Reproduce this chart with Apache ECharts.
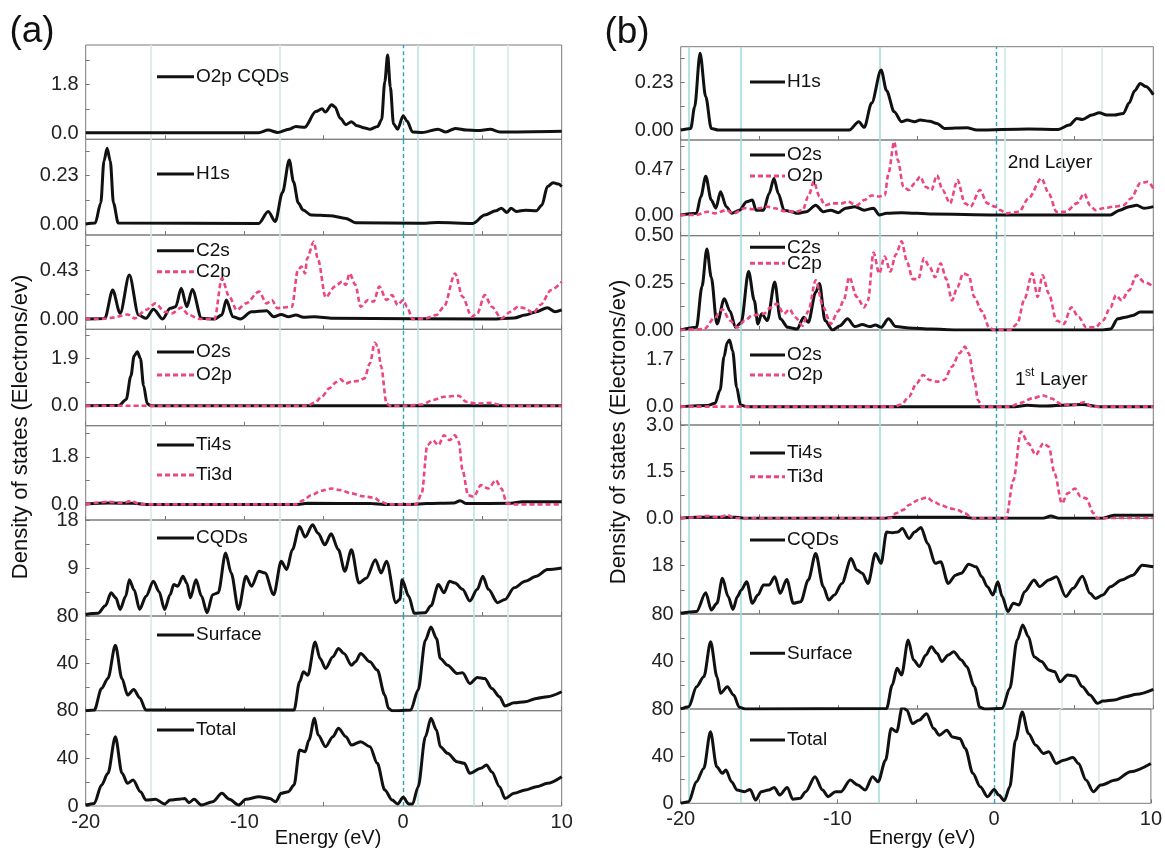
<!DOCTYPE html>
<html><head><meta charset="utf-8">
<script src="https://cdn.jsdelivr.net/npm/echarts@6/dist/echarts.min.js"></script>
<style>html,body{margin:0;padding:0;background:#fff}#c{width:1165px;height:852px}</style>
</head><body><div id="c"></div><script>
// ---------- Panel (a) data ----------
const a_O2pCQDs = [[-20,0.02],[-9.1,0.02],[-8.5,0.12],[-7.9,0.03],[-7.2,0.15],[-6.75,0.25],[-6.2,0.22],[-5.5,0.8],[-5.1,0.9],[-4.9,0.78],[-4.5,1.05],[-4.3,0.98],[-3.95,0.55],[-3.6,0.32],[-3.25,0.43],[-2.9,0.28],[-2.4,0.2],[-2.1,0.15],[-1.6,0.25],[-1.35,0.5],[-1.15,1.9],[-0.97,2.88],[-0.8,1.7],[-0.6,0.35],[-0.34,0.15],[0.01,0.65],[0.25,0.45],[0.6,0.05],[1.2,0.03],[2.2,0.15],[2.7,0.05],[3.3,0.18],[4.0,0.12],[4.7,0.1],[5.5,0.15],[6.1,0.05],[10,0.08]];
const a_H1s = [[-20,0],[-19.4,0.005],[-19.05,0.1],[-18.85,0.3],[-18.65,0.36],[-18.45,0.3],[-18.25,0.1],[-17.95,0.005],[-9.1,0.003],[-8.5,0.06],[-8.05,0.012],[-7.6,0.15],[-7.17,0.305],[-6.9,0.2],[-6.6,0.1],[-6.3,0.067],[-5.8,0.043],[-4.6,0.04],[-3.6,0.027],[-3.0,0.006],[1.0,0.004],[2.2,0.007],[4.4,0.003],[5.15,0.043],[5.85,0.063],[6.2,0.075],[6.55,0.055],[6.8,0.075],[7.15,0.06],[7.7,0.066],[8.4,0.063],[8.75,0.09],[9.1,0.178],[9.46,0.197],[9.8,0.19],[10,0.178]];
const a_C2s = [[-20,0],[-18.8,0.005],[-18.3,0.254],[-17.83,0.05],[-17.25,0.386],[-16.67,0.035],[-16.2,0.006],[-15.73,0.085],[-15.15,0],[-14.68,0.094],[-14.33,0.108],[-13.98,0.27],[-13.63,0.108],[-13.28,0.26],[-12.7,0.006],[-11.88,0],[-11.42,0.035],[-11.14,0.167],[-10.72,0.02],[-10.25,0],[-9.55,0.064],[-8.6,0.073],[-8.15,0.02],[-7.68,0.04],[-7.22,0.02],[-6.75,0.035],[-6.28,0.015],[-5.6,0.02],[-4.42,0.006],[5.6,0],[7.0,0.01],[7.7,0.035],[8.4,0.064],[9.1,0.1],[9.58,0.064],[10,0.08]];
const a_C2p = [[-20,0],[-18.8,0.003],[-18.3,0.012],[-17.36,0.04],[-16.9,0.006],[-16.2,0.08],[-15.6,0.137],[-15.03,0.064],[-14.55,0.05],[-13.98,0.1],[-13.5,0.035],[-12.8,0],[-11.88,0],[-11.42,0.357],[-10.95,0.196],[-10.48,0.079],[-9.9,0.137],[-9.08,0.24],[-8.6,0.137],[-8.27,0.167],[-7.92,0.094],[-7.68,0.1],[-7.0,0.108],[-6.63,0.43],[-6.4,0.46],[-6.17,0.4],[-6.05,0.53],[-5.63,0.678],[-5.35,0.518],[-4.88,0.19],[-4.3,0.284],[-3.83,0.33],[-3.6,0.3],[-3.37,0.4],[-3.0,0.3],[-2.67,0.108],[-2.2,0.167],[-1.85,0.152],[-1.5,0.284],[-1.04,0.167],[-0.69,0.21],[-0.34,0.123],[0.01,0.167],[0.25,0.108],[0.6,0],[1.4,0.006],[2.1,0.035],[2.58,0.108],[3.28,0.4],[3.75,0.196],[4.33,0.02],[4.68,0.05],[5.15,0.21],[5.6,0.108],[6.2,0.006],[6.78,0.064],[7.25,0.108],[7.7,0.094],[8.2,0.05],[8.65,0.123],[9.34,0.254],[10,0.327]];
const a_O2s = [[-20,0],[-17.9,0.01],[-17.45,0.25],[-17.15,1.2],[-16.95,2.0],[-16.75,2.17],[-16.55,1.9],[-16.35,0.8],[-16.12,0.08],[-15.9,0],[10,0]];
const a_O2p = [[-20,0],[-6.05,0],[-5.58,0.12],[-5.12,0.36],[-4.65,0.7],[-4.18,0.96],[-3.95,1.06],[-3.6,0.9],[-3.25,0.97],[-2.78,1.0],[-2.43,1.1],[-2.09,1.7],[-1.78,2.53],[-1.6,2.4],[-1.38,1.57],[-1.04,0.09],[-0.8,0],[0.25,0],[1.18,0.05],[1.88,0.23],[2.58,0.36],[3.5,0.4],[3.98,0.16],[4.68,0.09],[5.6,0.12],[5.96,0.05],[6.55,0],[10,0]];
const a_Ti4s = [[-20,0.02],[-18.5,0.05],[-17,0.04],[-16,0],[-6.8,0],[-6,0.04],[-2,0.03],[-1.2,0],[0.5,0],[1.5,0.03],[3.2,0.05],[3.6,0.14],[4,0.03],[6.8,0.04],[7.5,0.1],[10,0.1]];
const a_Ti3d = [[-20,0],[-19.35,0.06],[-18.65,0.1],[-17.7,0.06],[-17.13,0.126],[-16.55,0],[-6.75,0],[-6.28,0.16],[-5.8,0.35],[-5.12,0.52],[-4.53,0.6],[-3.95,0.54],[-3.25,0.42],[-2.55,0.31],[-1.85,0.26],[-1.38,0.1],[-0.92,0],[0.83,0],[1.18,0.42],[1.53,2.24],[1.88,2.43],[2.23,2.24],[2.58,2.62],[2.93,2.43],[3.28,2.62],[3.51,2.37],[3.75,1.3],[4.1,0.35],[4.45,0.29],[4.91,0.73],[5.38,0.6],[5.85,0.92],[6.2,0.6],[6.55,0.04],[7.0,0],[10,0]];
const a_CQDs = [[-20,0.3],[-19.23,0.5],[-18.76,1.9],[-18.4,4.35],[-18.1,3.4],[-17.83,1.24],[-17.48,3.7],[-17.25,6.8],[-16.95,4.9],[-16.6,1.24],[-16.2,3.7],[-15.73,6.5],[-15.38,4.6],[-15.03,1.24],[-14.68,4.0],[-14.45,5.9],[-14.2,5.6],[-13.87,7.45],[-13.63,6.2],[-13.4,3.4],[-13.05,6.8],[-12.7,3.7],[-12.35,0.6],[-12.0,4.0],[-11.65,4.35],[-11.18,11.8],[-10.83,8.07],[-10.37,1.24],[-9.9,7.45],[-9.55,5.6],[-9.08,8.4],[-8.7,8.07],[-8.15,4.0],[-7.68,10.25],[-7.33,8.7],[-6.98,12.4],[-6.52,16.8],[-6.17,14.8],[-5.7,17.1],[-5.35,15.5],[-4.93,13.35],[-4.53,15.4],[-4.07,12.4],[-3.67,8.4],[-3.25,12.4],[-2.78,6.2],[-2.32,7.1],[-1.74,10.56],[-1.38,8.07],[-1.04,10.25],[-0.45,2.5],[-0.2,3.1],[-0.06,6.8],[0.36,3.7],[0.71,0.5],[1.4,0.6],[1.76,1.9],[2.23,5.9],[2.58,4.35],[2.93,6.5],[3.28,6.2],[3.75,5.0],[4.21,2.8],[4.68,5.0],[5.03,7.45],[5.38,5.0],[5.96,2.5],[6.43,3.1],[7.0,5.3],[7.7,6.5],[8.4,7.45],[9.1,8.7],[10,9.0]];
const a_Surface = [[-20,0],[-19.46,0.5],[-19.0,18.8],[-18.6,27.2],[-18.13,55.3],[-17.71,27],[-17.36,13.2],[-16.97,18],[-16.6,11],[-16.2,0.5],[-6.87,0.5],[-6.52,24.4],[-6.28,32.9],[-6.0,30],[-5.54,58.1],[-5.23,44.1],[-4.88,35.7],[-4.42,45.5],[-4.07,52.5],[-3.72,48.3],[-3.25,38.5],[-3.0,41.3],[-2.67,48.3],[-2.09,41.3],[-1.62,34.3],[-1.15,13.2],[-0.92,2],[-0.69,0],[0.48,0.5],[0.95,17.4],[1.41,59.6],[1.76,70.8],[2.11,61],[2.35,44.1],[2.81,38.5],[3.4,31.5],[3.75,32],[4.21,23],[4.68,28.1],[5.15,27.2],[5.6,18.8],[6.08,11.8],[6.43,3.9],[7.0,6.7],[7.7,7.6],[8.4,10.4],[9.1,11.8],[10,16]];
const a_Total = [[-20,0.8],[-19.46,2.2],[-19.0,17.6],[-18.6,27.4],[-18.13,58.2],[-17.71,27.4],[-17.36,19],[-17.01,21.8],[-16.55,12],[-16.2,5],[-15.6,5.6],[-15.03,1.7],[-14.68,5],[-14.2,5.6],[-13.75,6.4],[-13.5,2.8],[-13.17,5.6],[-12.7,0.8],[-12.0,3.6],[-11.42,10.6],[-10.95,5.6],[-10.37,0.8],[-9.9,5.6],[-9.08,7.8],[-8.4,6.4],[-8.03,3.6],[-7.68,10.6],[-7.22,12],[-6.87,17.6],[-6.52,47],[-6.17,45.6],[-5.93,55.4],[-5.58,73.6],[-5.35,59.6],[-4.88,49.8],[-4.42,58.2],[-4.07,65.2],[-3.6,58.2],[-3.25,51.2],[-2.67,54],[-2.09,49.8],[-1.62,35.8],[-1.15,13.4],[-0.69,5],[-0.34,1.7],[0.01,7.3],[0.36,1.7],[0.6,1.7],[0.95,16],[1.41,58.2],[1.76,73.6],[2.11,63.8],[2.35,49.8],[2.81,44.2],[3.4,37.2],[3.86,35.8],[4.21,27.4],[4.91,31.6],[5.26,34.4],[5.6,28.6],[6.08,16.2],[6.43,6.4],[7.0,10.6],[7.7,13.4],[8.4,16.2],[9.1,19],[10,24.6]];

// ---------- Panel (b) data ----------
const b_H1s = [[-20,0],[-19.36,0.008],[-19.12,0.11],[-18.77,0.37],[-18.41,0.16],[-18.06,0.008],[-17.6,0],[-9.3,0],[-8.7,0.04],[-8.35,0.013],[-7.88,0.13],[-7.28,0.29],[-6.93,0.19],[-6.45,0.088],[-5.98,0.04],[-5.63,0.048],[-5.15,0.04],[-4.8,0.048],[-4.2,0.043],[-3.73,0.032],[-3.26,0.008],[-1.84,0.011],[-1.2,0],[2.07,0.005],[3.96,0.003],[4.67,0.024],[5.15,0.056],[5.5,0.051],[6.1,0.072],[6.57,0.084],[7.04,0.072],[7.52,0.072],[8.1,0.08],[8.46,0.13],[8.82,0.19],[9.17,0.225],[9.53,0.21],[10,0.17]];
const b_O2s2 = [[-20,0],[-19.0,0.017],[-18.72,0.19],[-18.41,0.4],[-18.06,0.155],[-17.77,0.07],[-17.47,0.24],[-17.11,0.086],[-16.76,0.017],[-16.28,0.05],[-15.81,0.137],[-15.45,0.155],[-15.22,0.05],[-14.74,0.05],[-14.39,0.22],[-14.08,0.377],[-13.8,0.22],[-13.44,0.05],[-12.97,0.034],[-12.6,0.017],[-12.02,0.034],[-11.43,0.1],[-10.95,0.034],[-10.48,0.05],[-10.0,0.024],[-9.53,0.07],[-8.94,0.086],[-8.35,0.05],[-7.76,0.07],[-7.4,0],[-6.93,0.017],[-5.98,0.024],[-4,0.01],[0,0],[7.28,0],[7.87,0.05],[8.46,0.086],[8.94,0.1],[9.41,0.07],[10,0.086]];
const b_O2p2 = [[-20,0],[-19,0],[-18.3,0.034],[-17.82,0.017],[-17.11,0.05],[-16.64,0.017],[-15.93,0.07],[-15.45,0.06],[-14.98,0.07],[-14.5,0.086],[-14.03,0.07],[-13.44,0.04],[-12.73,0.034],[-12.26,0.05],[-11.9,0.19],[-11.55,0.343],[-11.19,0.19],[-10.84,0.1],[-10.36,0.12],[-9.77,0.12],[-9.41,0.137],[-8.82,0.1],[-8.35,0.154],[-7.88,0.2],[-7.4,0.19],[-7.05,0.2],[-6.81,0.43],[-6.45,0.755],[-6.22,0.566],[-5.86,0.29],[-5.51,0.257],[-5.15,0.326],[-4.8,0.395],[-4.44,0.29],[-4.09,0.257],[-3.73,0.41],[-3.38,0.257],[-2.9,0.12],[-2.43,0.36],[-1.96,0.12],[-1.6,0.086],[-1.01,0.257],[-0.53,0.12],[-0.06,0.086],[0.29,0.05],[0.65,0.017],[1.48,0.034],[2.07,0.17],[2.9,0.377],[3.37,0.22],[3.85,0.034],[4.44,0.034],[5.15,0.12],[5.62,0.22],[5.98,0.1],[6.33,0.05],[6.81,0.07],[7.52,0.086],[8.1,0.1],[8.58,0.17],[9.17,0.326],[9.65,0.343],[10,0.274]];
const b_C2s = [[-20,0],[-19.0,0.014],[-18.65,0.23],[-18.34,0.43],[-18.06,0.28],[-17.7,0.032],[-17.23,0.166],[-16.87,0.1],[-16.52,0.014],[-16.16,0.04],[-15.69,0.31],[-15.33,0.157],[-15.1,0.032],[-14.86,0.086],[-14.5,0.05],[-14.03,0.255],[-13.68,0.059],[-13.2,0.014],[-12.61,0.005],[-12.19,0.068],[-11.9,0.041],[-11.43,0.2],[-11.19,0.246],[-10.84,0.05],[-10.36,0],[-9.89,0.023],[-9.41,0.059],[-8.94,0.018],[-8.47,0.029],[-8.0,0.018],[-7.64,0.027],[-7.28,0.014],[-6.81,0.059],[-6.34,0.018],[-5.51,0.011],[-4.09,0.005],[-2.5,0],[6.8,0],[7.28,0.005],[7.75,0.059],[8.23,0.068],[8.7,0.077],[9.17,0.095],[10,0.095]];
const b_C2p = [[-20,0],[-18.5,0.005],[-17.82,0.068],[-17.35,0.11],[-16.87,0.05],[-16.4,0.014],[-15.93,0.05],[-15.45,0.077],[-14.74,0.086],[-14.27,0.12],[-13.91,0.14],[-13.44,0.086],[-13.09,0.11],[-12.73,0.068],[-12.26,0.023],[-11.9,0.1],[-11.43,0.264],[-10.95,0.12],[-10.48,0.032],[-10.0,0.1],[-9.65,0.157],[-9.3,0.28],[-8.82,0.175],[-8.35,0.12],[-8.11,0.157],[-7.76,0.41],[-7.4,0.3],[-7.05,0.39],[-6.69,0.31],[-6.34,0.4],[-5.98,0.47],[-5.63,0.36],[-5.27,0.27],[-4.92,0.27],[-4.56,0.38],[-4.21,0.336],[-3.85,0.28],[-3.5,0.354],[-3.14,0.27],[-2.78,0.157],[-2.43,0.228],[-2.07,0.3],[-1.72,0.29],[-1.36,0.175],[-0.89,0.1],[-0.42,0.014],[-0.1,0],[0.89,0],[1.36,0.032],[1.83,0.166],[2.31,0.3],[2.66,0.175],[2.97,0.29],[3.37,0.193],[3.85,0.05],[4.32,0.032],[4.79,0.12],[5.27,0.068],[5.74,0.014],[6.33,0.014],[6.8,0.05],[7.28,0.12],[7.63,0.184],[7.99,0.157],[8.46,0.21],[8.94,0.29],[9.41,0.255],[10,0.23]];
const b_O2s1 = [[-20,0],[-18.3,0.04],[-17.82,0.12],[-17.5,0.6],[-17.25,1.8],[-17.05,2.3],[-16.9,2.4],[-16.7,2.0],[-16.45,0.7],[-16.2,0.06],[-15.8,0],[1.2,0],[2.0,0.05],[3,0.02],[5.5,0.08],[6.5,0],[10,0]];
const b_O2p1 = [[-20,0],[-6.45,0],[-5.98,0.08],[-5.51,0.36],[-5.03,0.84],[-4.61,1.14],[-4.21,0.96],[-3.73,0.9],[-3.26,0.96],[-2.78,1.44],[-2.31,1.92],[-1.96,2.16],[-1.72,1.92],[-1.36,0.96],[-1.13,0.24],[-0.89,0],[0.89,0],[1.6,0.14],[2.31,0.3],[3.02,0.4],[3.5,0.3],[4.2,0.08],[4.91,0.06],[5.62,0.16],[6.1,0],[10,0]];
const b_Ti4s = [[-20,0],[-19,0.03],[-16.5,0.03],[-16,0],[-7,0],[-6.5,0.03],[-2,0.03],[-1.5,0],[3.0,0],[3.5,0.075],[4.0,0],[6.8,0],[7.5,0.1],[10,0.1]];
const b_Ti3d = [[-20,0],[-19.2,0.03],[-18.3,0.075],[-17.6,0.03],[-17.0,0.1],[-16.6,0],[-6.69,0],[-6.34,0.16],[-5.86,0.27],[-5.51,0.43],[-4.92,0.59],[-4.37,0.675],[-3.97,0.54],[-3.5,0.43],[-2.9,0.32],[-2.43,0.27],[-1.96,0.16],[-1.48,0],[0.65,0],[1.12,1.23],[1.6,2.79],[2.07,2.41],[2.54,2.04],[3.02,2.41],[3.37,2.3],[3.73,1.45],[4.2,0.48],[4.56,0.8],[5.03,0.96],[5.38,0.7],[5.74,0.64],[6.21,0.16],[6.45,0],[10,0]];
const b_CQDs = [[-20,0.25],[-19.0,0.9],[-18.41,7.9],[-18.06,1.5],[-17.7,4.0],[-17.35,13.3],[-16.99,6.5],[-16.68,1.7],[-16.4,6.5],[-16.16,8.9],[-15.81,12],[-15.45,4.0],[-15.1,7.1],[-14.74,10.8],[-14.39,10.8],[-14.03,13.9],[-13.68,7.7],[-13.27,12.9],[-12.85,4.0],[-12.38,4.6],[-11.9,12.7],[-11.43,22.6],[-10.95,10.2],[-10.6,5.2],[-10.24,7.1],[-9.77,11.4],[-9.18,20.7],[-8.82,16.4],[-8.47,15.2],[-8.11,11.4],[-7.64,22.6],[-7.28,18.9],[-6.93,30.6],[-6.57,30.3],[-6.22,30.6],[-5.93,31.9],[-5.51,28.2],[-5.15,30.6],[-4.75,32.3],[-4.32,26.3],[-3.85,18.9],[-3.5,19.5],[-3.02,11.4],[-2.55,14.5],[-2.19,15.2],[-1.72,18.6],[-1.25,17.6],[-0.89,13.9],[-0.53,10.2],[-0.18,7.1],[0.13,12],[0.41,6.5],[0.77,0.9],[1.12,4.0],[1.48,3.4],[1.83,8.3],[2.43,12.7],[2.78,10.2],[3.37,12.7],[3.85,13.9],[4.44,6.5],[4.91,9.6],[5.5,14.1],[5.98,7.7],[6.33,5.8],[6.8,7.1],[7.28,10.2],[7.99,12.7],[8.7,14.5],[9.3,18.2],[10,17.6]];
const b_Surface = [[-20,0],[-19.48,2],[-19.0,18.8],[-18.53,27.2],[-18.1,56.7],[-17.7,27.2],[-17.47,13.2],[-17.04,18.8],[-16.64,11.8],[-16.28,1.4],[-15.9,0],[-6.93,0.5],[-6.57,20.2],[-6.27,34.3],[-5.98,28.7],[-5.56,58.1],[-5.22,41.3],[-4.85,35.7],[-4.44,45.5],[-4.09,52.5],[-3.73,46.9],[-3.42,39.9],[-3.02,45.5],[-2.67,48.3],[-2.19,41.3],[-1.84,35.7],[-1.36,18.8],[-1.01,1.4],[-0.7,0],[0.41,0.6],[0.89,17.4],[1.36,58.1],[1.71,70.8],[2.07,61],[2.43,44.1],[2.9,39.9],[3.37,32.9],[3.73,31.5],[4.08,23],[4.56,28.7],[5.03,27.8],[5.5,18.8],[5.98,11.8],[6.45,4.8],[6.8,6.7],[7.52,7.6],[8.23,10.4],[8.94,12.4],[10,16.6]];
const b_Total = [[-20,0],[-19.48,1.4],[-19.0,18.3],[-18.53,29.6],[-18.1,60.6],[-17.7,31],[-17.35,25.4],[-17.11,28.2],[-16.76,18.3],[-16.4,11.3],[-15.93,9.9],[-15.57,11.8],[-15.22,2.8],[-14.86,9.9],[-14.39,11.3],[-14.03,13.5],[-13.68,7],[-13.2,13.5],[-12.85,3.4],[-12.38,4.2],[-12.02,9.9],[-11.43,22.5],[-10.95,11.3],[-10.6,5.6],[-10.12,9.9],[-9.77,9.9],[-9.18,19.7],[-8.7,15.5],[-8.23,11.3],[-7.76,22.5],[-7.4,18.3],[-6.93,36.6],[-6.57,63.4],[-6.22,60.6],[-5.86,81.7],[-5.56,78.9],[-5.22,67.6],[-4.8,70.4],[-4.32,76],[-3.85,63.4],[-3.5,57.7],[-3.02,62],[-2.67,56.3],[-2.19,54.9],[-1.84,46.5],[-1.36,25.4],[-0.89,14.1],[-0.42,5.6],[0,11.8],[0.29,7],[0.65,2.3],[1.0,14],[1.36,53.5],[1.79,77.5],[2.19,59.2],[2.66,49.3],[3.14,42.3],[3.49,43.7],[3.96,33.8],[4.44,36.6],[5.03,38.9],[5.38,33.8],[5.86,19.7],[6.33,9.9],[6.8,15.5],[7.75,19.7],[8.7,26.8],[10,33.8]];

// ---------- axes / labels ----------
const xTickLabels = [-20, -10, 0, 10];
const xTickMarks = [-20, -15, -10, -5, 0, 5, 10];
const aYRange = [[-0.22,3.25],[-0.052,0.403],[-0.09,0.737],[-0.80,3.07],[-0.59,2.98],[0,18],[0,80],[0,80]];
const bYRange = [[-0.048,0.402],[-0.213,0.772],[0,0.5],[-0.66,2.76],[0,3.0],[0,35.7],[0,80],[0,80]];
const aYTicks = [[0,1.8],[0,0.23],[0,0.43],[0,1.9],[0,1.8],[9,18],[40,80],[0,40,80]];
const aYDec = [1,2,2,1,1,0,0,0];
const bYTicks = [[0,0.23],[0,0.47],[0,0.25,0.5],[0,1.7],[0,1.5,3.0],[18],[40,80],[0,40,80]];
const bYDec = [2,2,2,1,1,0,0,0];
const aGuides = [-15.9, -7.8, 0.9, 4.45, 6.6];
const aGuideColors = ['#dde6e6', '#d6e6e6', '#bfe3e3', '#bfe3e3', '#dde6e6'];
const bGuides = [-19.5, -16.2, -7.35, 0.6, 4.2, 6.7];
const bGuideColors = ['#a6dcdc', '#a6dcdc', '#a6dcdc', '#cfeaea', '#dfe8e8', '#dfe8e8'];
const aLegend = [["O2p CQDs",76.7,0],["H1s",174,0],["C2s",250.7,0],["C2p",271.7,1],["O2s",352,0],["O2p",375,1],["Ti4s",445,0],["Ti3d",475,1],["CQDs",538,0],["Surface",635,0],["Total",730,0]];
const bLegend = [["H1s",82,0],["O2s",155,0],["O2p",176,1],["C2s",247.3,0],["C2p",263.3,1],["O2s",355,0],["O2p",375,1],["Ti4s",453,0],["Ti3d",476.7,1],["CQDs",540,0],["Surface",653.3,0],["Total",740,0]];
const yTitle = "Density of states (Electrons/ev)";
const xTitle = "Energy (eV)";

const FONT = '"Liberation Sans", Arial, sans-serif';
const BLACK = {color:'#111', width:3, type:'solid'};
const PINK = {color:'#ec4681', width:2.6, type:[5,3]};

const panels = [
  {left:85.7, right:561.7,
   rows:[[45,139.3],[139.3,235],[235,329.3],[329.3,425.7],[425.7,520],[520,616],[616,710.7],[710.7,806]],
   yr:aYRange, ticks:aYTicks, dec:aYDec, guides:aGuides, guideColors:aGuideColors,
   curves:[[a_O2pCQDs],[a_H1s],[a_C2s,a_C2p],[a_O2s,a_O2p],[a_Ti4s,a_Ti3d],[a_CQDs],[a_Surface],[a_Total]],
   legend:aLegend, legX:[157,194,196]},
  {left:680.7, right:1153.3,
   rows:[[46.7,140],[140,235.7],[235.7,330],[330,425],[425,518.3],[518.3,614],[614,709],[709,803.3]],
   yr:bYRange, ticks:bYTicks, dec:bYDec, guides:bGuides, guideColors:bGuideColors,
   curves:[[b_H1s],[b_O2s2,b_O2p2],[b_C2s,b_C2p],[b_O2s1,b_O2p1],[b_Ti4s,b_Ti3d],[b_CQDs],[b_Surface],[b_Total]],
   legend:bLegend, legX:[750,785,787]}
];

const grid = [], xAxis = [], yAxis = [], series = [], graphic = [];
let g = 0;
panels.forEach((p) => {
  p.rows.forEach((row, i) => {
    const isBottom = i === p.rows.length - 1;
    grid.push({left:p.left, top:row[0], width:p.right-p.left, height:row[1]-row[0],
      show:true, borderColor:'#7a7a7a', borderWidth:1, backgroundColor:'transparent'});
    xAxis.push({type:'value', gridIndex:g, min:-20, max:10, position:'bottom',
      axisLine:{show:false, onZero:false}, splitLine:{show:false},
      axisTick:{show:true, inside:true, length:4, customValues:xTickMarks, lineStyle:{color:'#777'}},
      axisLabel:{show:isBottom, customValues:xTickLabels, fontSize:20, fontFamily:FONT, color:'#222', margin:6}});
    const [mn, mx] = p.yr[i];
    const tk = p.ticks[i];
    const step = tk.length > 1 ? (tk[1]-tk[0]) : tk[0];
    const minor = step/2;
    const tickVals = [];
    for (let v = Math.ceil(mn/minor - 1e-9)*minor; v <= mx + 1e-9; v += minor) tickVals.push(+v.toFixed(6));
    const dec = p.dec[i];
    yAxis.push({type:'value', gridIndex:g, min:mn, max:mx, position:'left',
      axisLine:{show:false, onZero:false}, splitLine:{show:false},
      axisTick:{show:true, inside:true, length:4, customValues:tickVals, lineStyle:{color:'#777'}},
      axisLabel:{customValues:tk, fontSize:20, fontFamily:FONT, color:'#222', margin:7,
        formatter:(v) => Number(v).toFixed(dec)}});
    p.curves[i].forEach((c, k) => {
      const s = {type:'line', xAxisIndex:g, yAxisIndex:g, data:c, symbol:'none', showSymbol:false,
        smooth:0.3, smoothMonotone:'x', silent:true, z:3, clip:true,
        lineStyle: k === 0 ? BLACK : PINK};
      if (k === 0) {
        s.markLine = {silent:true, symbol:['none','none'], label:{show:false}, z:1, animation:false,
          emphasis:{disabled:true},
          data: p.guides.map((v, j) => ({xAxis:v, lineStyle:{color:p.guideColors[j], width:1.6, type:'solid'}}))
            .concat([{xAxis:0, lineStyle:{color:'#2aa3bb', width:1.4, type:[4,3]}}])};
      }
      series.push(s);
    });
    g++;
  });
  p.legend.forEach(([name, y, dashed]) => {
    graphic.push({type:'line', silent:true, shape:{x1:p.legX[0], y1:y, x2:p.legX[1], y2:y},
      style:{stroke: dashed ? PINK.color : BLACK.color, lineWidth: 3, lineDash: dashed ? [5,3] : null}});
    graphic.push({type:'text', silent:true, x:p.legX[2], y:y,
      style:{text:name, font:'19px ' + FONT, fill:'#111', align:'left', verticalAlign:'middle'}});
  });
});

graphic.push({type:'text', x:32, y:32, style:{text:'(a)', font:'37px ' + FONT, fill:'#111', align:'center', verticalAlign:'middle'}});
graphic.push({type:'text', x:627, y:33, style:{text:'(b)', font:'37px ' + FONT, fill:'#111', align:'center', verticalAlign:'middle'}});
graphic.push({type:'text', x:21, y:427, rotation:Math.PI/2, style:{text:yTitle, font:'22px ' + FONT, fill:'#111', align:'center', verticalAlign:'middle'}});
graphic.push({type:'text', x:619, y:432, rotation:Math.PI/2, style:{text:yTitle, font:'22px ' + FONT, fill:'#111', align:'center', verticalAlign:'middle'}});
graphic.push({type:'text', x:328, y:838, style:{text:xTitle, font:'20px ' + FONT, fill:'#111', align:'center', verticalAlign:'middle'}});
graphic.push({type:'text', x:922, y:838, style:{text:xTitle, font:'20px ' + FONT, fill:'#111', align:'center', verticalAlign:'middle'}});
graphic.push({type:'text', x:1050, y:163, style:{text:'2nd Layer', font:'19px ' + FONT, fill:'#111', align:'center', verticalAlign:'middle'}});
graphic.push({type:'text', x:1015, y:380, style:{text:'1', font:'19px ' + FONT, fill:'#111', align:'left', verticalAlign:'middle'}});
graphic.push({type:'text', x:1025, y:373, style:{text:'st', font:'12px ' + FONT, fill:'#111', align:'left', verticalAlign:'middle'}});
graphic.push({type:'text', x:1040, y:380, style:{text:'Layer', font:'19px ' + FONT, fill:'#111', align:'left', verticalAlign:'middle'}});

const chart = echarts.init(document.getElementById('c'), null, {renderer:'canvas'});
chart.setOption({animation:false, backgroundColor:'#fff', grid, xAxis, yAxis, series, graphic});
</script></body></html>
